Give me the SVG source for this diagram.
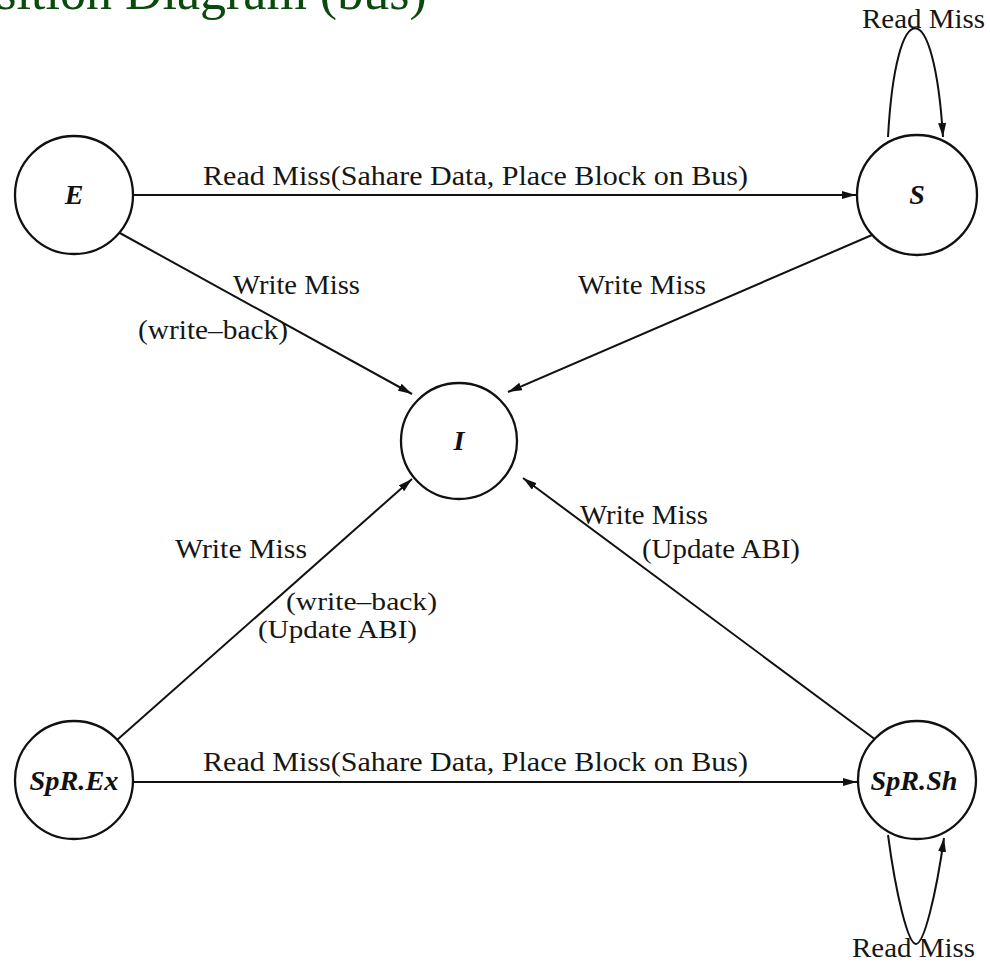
<svg xmlns="http://www.w3.org/2000/svg" width="990" height="965" viewBox="0 0 990 965">
  <style>
    .title { font-family: "Liberation Serif", "Times New Roman", serif; font-size: 52px; fill: #0b4a0d; }
    .state { fill: #ffffff; stroke: #111111; stroke-width: 2.3; }
    .state-label { font-family: "Liberation Serif", "Times New Roman", serif; font-size: 28px; font-weight: bold; font-style: italic; fill: #111111; text-anchor: middle; }
    .edge { fill: none; stroke: #111111; stroke-width: 2; marker-end: url(#arrow); }
    .edge-label { font-family: "Liberation Serif", "Times New Roman", serif; font-size: 28px; fill: #161616; }
    .edge-label.small { font-size: 26px; }
  </style>
  <defs>
    <marker id="arrow" viewBox="0 0 14 8" refX="14" refY="4" markerWidth="14" markerHeight="8" markerUnits="userSpaceOnUse" orient="auto">
      <path d="M0,0 L14,4 L0,8 Z" fill="#111111"/>
    </marker>
  </defs>

  <rect width="990" height="965" fill="#ffffff"/>

  <!-- page heading, partly above the top edge -->
  <text class="title" x="-100" y="9">Transition Diagram (bus)</text>

  <!-- transitions -->
  <g id="connectors">
    <!-- E -> S -->
    <line class="edge" x1="133" y1="195" x2="856" y2="195"/>
    <!-- E -> I -->
    <line class="edge" x1="118" y1="232" x2="412" y2="394"/>
    <!-- S -> I -->
    <line class="edge" x1="872" y1="235" x2="508" y2="392"/>
    <!-- SpR.Ex -> I -->
    <line class="edge" x1="117" y1="740" x2="412" y2="479"/>
    <!-- SpR.Sh -> I -->
    <line class="edge" x1="876" y1="740" x2="523" y2="478"/>
    <!-- SpR.Ex -> SpR.Sh -->
    <line class="edge" x1="133" y1="782" x2="857" y2="782"/>
    <!-- S self loop -->
    <path class="edge" d="M888,137 C896,-8 934,-8 943,137"/>
    <!-- SpR.Sh self loop -->
    <path class="edge" d="M888,835 C896,895 908,944 916,944 C924,944 936,895 944,838"/>

    <text class="edge-label" x="203" y="185" textLength="545" lengthAdjust="spacingAndGlyphs">Read Miss(Sahare Data, Place Block on Bus)</text>
    <text class="edge-label" x="203" y="771" textLength="545" lengthAdjust="spacingAndGlyphs">Read Miss(Sahare Data, Place Block on Bus)</text>
    <text class="edge-label" x="233" y="294" textLength="127" lengthAdjust="spacingAndGlyphs">Write Miss</text>
    <text class="edge-label" x="138" y="339" textLength="150" lengthAdjust="spacingAndGlyphs">(write–back)</text>
    <text class="edge-label" x="578" y="294" textLength="128" lengthAdjust="spacingAndGlyphs">Write Miss</text>
    <text class="edge-label" x="175" y="558" textLength="132" lengthAdjust="spacingAndGlyphs">Write Miss</text>
    <text class="edge-label small" x="286" y="610" textLength="151" lengthAdjust="spacingAndGlyphs">(write–back)</text>
    <text class="edge-label small" x="258" y="638" textLength="159" lengthAdjust="spacingAndGlyphs">(Update ABI)</text>
    <text class="edge-label" x="580" y="524" textLength="128" lengthAdjust="spacingAndGlyphs">Write Miss</text>
    <text class="edge-label" x="642" y="558" textLength="158" lengthAdjust="spacingAndGlyphs">(Update ABI)</text>
    <text class="edge-label" x="862" y="28" textLength="123" lengthAdjust="spacingAndGlyphs">Read Miss</text>
    <text class="edge-label" x="852" y="957" textLength="123" lengthAdjust="spacingAndGlyphs">Read Miss</text>
  </g>

  <!-- states -->
  <g id="node-E">
    <circle class="state" cx="74" cy="195" r="59"/>
    <text class="state-label" x="74" y="204">E</text>
  </g>
  <g id="node-S">
    <circle class="state" cx="917" cy="195" r="60"/>
    <text class="state-label" x="917" y="204">S</text>
  </g>
  <g id="node-I">
    <circle class="state" cx="459" cy="441" r="58"/>
    <text class="state-label" x="459" y="450">I</text>
  </g>
  <g id="node-SpR-Ex">
    <circle class="state" cx="74" cy="780" r="59"/>
    <text class="state-label" x="74" y="790" textLength="89" lengthAdjust="spacingAndGlyphs">SpR.Ex</text>
  </g>
  <g id="node-SpR-Sh">
    <circle class="state" cx="917" cy="780" r="59"/>
    <text class="state-label" x="914" y="790" textLength="87" lengthAdjust="spacingAndGlyphs">SpR.Sh</text>
  </g>
</svg>
